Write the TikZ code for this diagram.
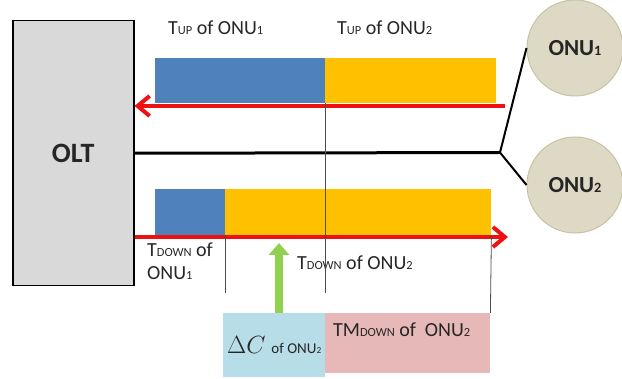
\documentclass[tikz,border=0pt]{standalone}
\usepackage{fontspec}
\setmainfont{Carlito}
\usetikzlibrary{arrows.meta, positioning, calc}
\definecolor{barblue}{HTML}{4F81BD}
\definecolor{baryellow}{HTML}{FFC000}
\definecolor{linkred}{HTML}{EE1111}
\definecolor{arrgreen}{HTML}{92D050}
\definecolor{boxblue}{HTML}{B7DEE8}
\definecolor{boxpink}{HTML}{E6B9B8}
\definecolor{onufill}{HTML}{DDD9C4}
\definecolor{onuedge}{HTML}{C9C3A3}
\definecolor{oltfill}{HTML}{D9D9D9}
\definecolor{txtgray}{HTML}{262626}
% small capitals / lowered digits of the labels
\newcommand\lc[1]{\scalebox{0.62}{#1}}
\newcommand\lblfont{\fontsize{20}{23}\selectfont}

\begin{document}
\begin{tikzpicture}[
  x=1pt, y=-1pt,
  bar/.style={rectangle, inner sep=0pt, anchor=north west, fill=#1},
  lbl/.style={anchor=base west, inner sep=0pt, text=txtgray, font=\lblfont},
  onu/.style={circle, minimum size=96pt, inner sep=0pt, fill=onufill,
              draw=onuedge, line width=1pt, text=txtgray,
              font=\fontsize{23}{26}\selectfont\bfseries},
  redarr/.style={draw=linkred, line width=4pt,
                 -{Straight Barb[length=12pt, width=20pt]}},
  fiber/.style={draw=black, line width=#1},
  tick/.style={draw=black!70, line width=0.8pt},
  uparr/.style={draw=arrgreen, line width=8pt,
                -{Triangle[length=12pt, width=20pt]}}
]
\useasboundingbox (0,0) rectangle (622,379);

% === OLT and the two ONUs ===
\node[rectangle, anchor=north west, minimum width=121pt, minimum height=265pt,
      fill=oltfill, draw=black, line width=1.5pt, text=txtgray,
      font=\fontsize{28}{32}\selectfont\bfseries]
  (OLT) at (12,20) {OLT};
\node[onu] (ONU1) at (575,48)  {ONU\lc{1}};
\node[onu] (ONU2) at (575,185) {ONU\lc{2}};

% === Fibre tree ===
\coordinate (split) at (500,152.5);
\draw[fiber=3pt] (OLT.east) -- (split);
\draw[fiber=2pt] (split) -- (ONU1.west);
\draw[fiber=2pt] (split) -- (ONU2.west);

% === Upstream slots ===
\node[bar=barblue,   minimum width=170pt, minimum height=45pt] (upA) at (155,58) {};
\node[bar=baryellow, minimum width=171pt, minimum height=45pt] (upB) at (325,58) {};
\coordinate (upR) at (505,106);
\draw[redarr] (upR) -- (upR -| OLT.east);

\node[lbl] (tup1) at (168,35) {T\lc{UP} of ONU\lc{1}};
\node[lbl] (tup2) at (337,35) {T\lc{UP} of ONU\lc{2}};

% === Downstream slots ===
\node[bar=barblue,   minimum width=70pt,  minimum height=46pt] (dnA) at (155,189) {};
\node[bar=baryellow, minimum width=266pt, minimum height=46pt] (dnB) at (225,189) {};
\coordinate (dnR) at (508,237);
\draw[redarr] (dnR -| OLT.east) -- (dnR);

\node[lbl, anchor=north west, align=left] (tdown1) at (147,243)
  {T\lc{DOWN} of\\ONU\lc{1}};
\node[lbl] (tdown2) at (297,270) {T\lc{DOWN} of ONU\lc{2}};

% === Correction of ONU2 ===
\node[bar=boxblue, minimum width=102pt, minimum height=64pt, text=txtgray]
  (dcbox) at (223,313)
  {\fontsize{26}{28}\selectfont$\Delta C$ {\fontsize{15}{18}\selectfont of ONU\lc{2}}};
\node[bar=boxpink, minimum width=165pt, minimum height=60pt] (tmbox) at (325,313) {};
\node[lbl] (tmtxt) at ($(tmbox.north west)+(8,24)$) {TM\lc{DOWN} of\ \ ONU\lc{2}};

\coordinate (gtip) at (279,243);
\draw[uparr] (dcbox.north -| gtip) -- (gtip);

% === Slot boundaries ===
\draw[tick] (upA.south east) -- ++(0,190);
\draw[tick] (dnA.south east) -- ++(0,58);
\draw[tick] (dnB.south east) -- (tmbox.north east);

\end{tikzpicture}
\end{document}
